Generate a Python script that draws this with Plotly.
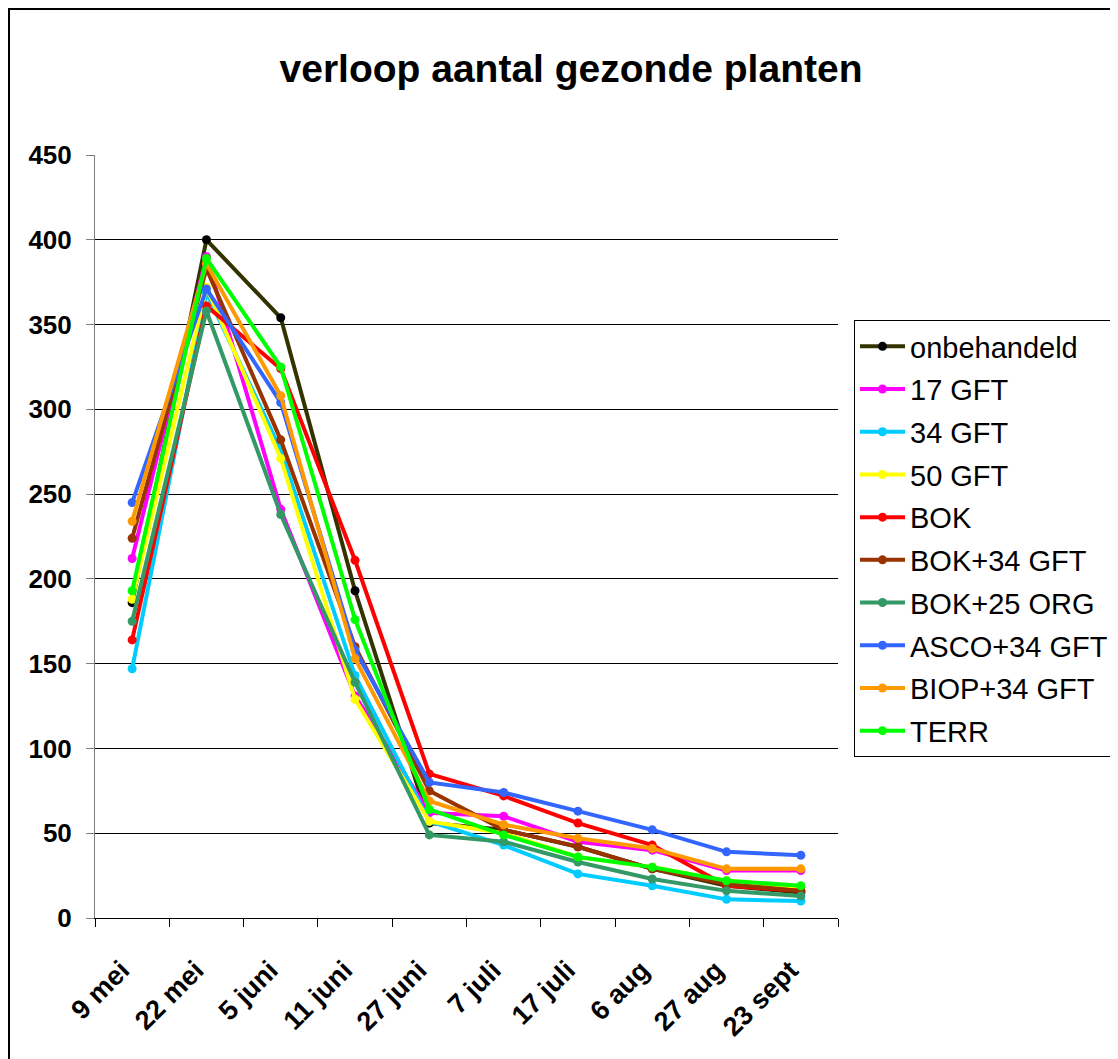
import plotly.graph_objects as go

dates = ["9 mei", "22 mei", "5 juni", "11 juni", "27 juni", "7 juli", "17 juli", "6 aug", "27 aug", "23 sept"]

onbehandeld = [186, 400, 354, 193, 56, 52, 42, 29, 19, 15]
gft17 = [212, 390, 241, 131, 62, 60, 45, 40, 28, 28]
gft34 = [147, 369, 276, 143, 57, 43, 26, 19, 11, 10]
gft50 = [188, 372, 271, 129, 57, 50, 36, 30, 22, 18]
bok = [164, 361, 324, 211, 85, 72, 56, 43, 19, 16]
bok34 = [224, 383, 282, 160, 75, 52, 42, 29, 20, 16]
bok25org = [175, 358, 238, 139, 49, 45, 33, 23, 16, 13]
asco34 = [245, 371, 304, 158, 80, 74, 63, 52, 39, 37]
biop34 = [234, 386, 308, 153, 69, 55, 47, 41, 29, 29]
terr = [193, 389, 325, 176, 64, 49, 36, 30, 22, 19]

names = ["onbehandeld", "17 GFT", "34 GFT", "50 GFT", "BOK", "BOK+34 GFT",
         "BOK+25 ORG", "ASCO+34 GFT", "BIOP+34 GFT", "TERR"]
series = [onbehandeld, gft17, gft34, gft50, bok, bok34, bok25org, asco34, biop34, terr]
line_colors = ["#333300", "#FF00FF", "#00CCFF", "#FFFF00", "#FF0000", "#993300",
               "#339966", "#3366FF", "#FF9900", "#00FF00"]
marker_colors = ["#000000", "#FF00FF", "#00CCFF", "#FFFF00", "#FF0000", "#993300",
                 "#339966", "#3366FF", "#FF9900", "#00FF00"]

fig = go.Figure()
for i, (n, s) in enumerate(zip(names, series)):
    fig.add_trace(go.Scatter(
        x=dates, y=s, name=n, mode="lines+markers",
        line=dict(color=line_colors[i], width=4),
        marker=dict(color=marker_colors[i], size=9),
        legendgroup="g%d" % i,
    ))

W, H = 1118, 1059
OFF = 8  # page body margin
L, R, T, B = 95, 838, 155, 918
pw, ph = R - L, B - T
ml, mt = L - OFF, T - OFF

fig.update_layout(
    width=W, height=H,
    margin=dict(l=ml, r=W - ml - pw, t=mt, b=H - mt - ph),
    paper_bgcolor="white", plot_bgcolor="white",
    font=dict(family="Liberation Sans, Arial, sans-serif", color="black"),
    title=dict(text="<b>verloop aantal gezonde planten</b>", x=(571 - OFF) / W, xanchor="center",
               y=1 - (68 - OFF) / H, yanchor="middle", font=dict(size=39, color="black")),
    showlegend=True,
    legend=dict(x=(854 - L) / pw, y=(B - 320) / ph, xanchor="left", yanchor="top",
                bordercolor="black", borderwidth=1, bgcolor="white",
                font=dict(size=29, color="black"), tracegroupgap=2,
                itemwidth=45, traceorder="grouped"),
    xaxis=dict(type="category", range=[-0.5, 9.5], showgrid=False,
               showline=True, linecolor="black", linewidth=1,
               ticks="outside", tickson="boundaries", ticklen=8, tickcolor="black",
               tickangle=-45, tickfont=dict(size=27, color="black"),
               tickprefix="<b>", ticksuffix="</b>\u00a0\u00a0",
               ticklabelstandoff=14),
    yaxis=dict(range=[0, 450], dtick=50, showgrid=True, gridcolor="black", gridwidth=1,
               showline=True, linecolor="#808080", linewidth=1,
               ticks="outside", ticklen=8, tickcolor="#808080",
               tickfont=dict(size=26, color="black"),
               tickprefix="<b>", ticksuffix="</b>", zeroline=False,
               ticklabelstandoff=9),
    shapes=[dict(type="rect", xref="paper", yref="paper",
                 x0=(9 - L) / pw, x1=(1130 - L) / pw,
                 y0=(B - 1075) / ph, y1=(B - 9) / ph,
                 line=dict(color="black", width=2), fillcolor="rgba(0,0,0,0)",
                 layer="below")],
)

fig.write_html("out.html")
